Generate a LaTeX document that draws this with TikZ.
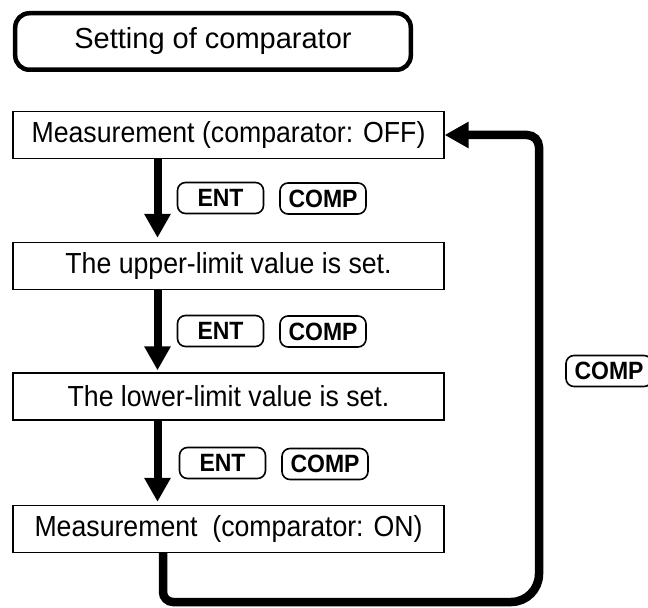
\documentclass[tikz,border=0pt]{standalone}
\usepackage{fontspec}
\setmainfont{Liberation Sans}
\newfontfamily\boxfont[FakeStretch=0.92]{Liberation Sans}
\newfontfamily\keyfont[FakeStretch=0.92]{Liberation Sans Bold}
\usetikzlibrary{arrows.meta}
\tikzset{
  stepbox/.style={draw, line width=1.3bp, minimum width=431bp, minimum height=47bp, inner sep=0pt,
    font=\boxfont\fontsize{29bp}{34bp}\selectfont},
  titlebox/.style={draw, line width=4.5bp, rounded corners=14bp, minimum width=395.5bp, minimum height=56.5bp,
    inner sep=0pt, font=\fontsize{29bp}{34bp}\selectfont},
  keybox/.style={draw, line width=1.6bp, rounded corners=8bp, minimum width=86bp, minimum height=31bp,
    inner sep=0pt, font=\keyfont\fontsize{25bp}{29bp}\selectfont},
  flow/.style={line width=8bp, -{Triangle[width=25bp,length=24bp]}},
  loopline/.style={line width=8.5bp, -{Triangle[width=25bp,length=24bp]}},
}
\begin{document}
\begin{tikzpicture}[x=1bp, y=-1bp]
\useasboundingbox (0,0) rectangle (648,608);
\clip (0,0) rectangle (648,608);
\node[titlebox] (title) at (213,41.5) {Setting of comparator};
\node[stepbox] (box1) at (228.5,135) {Measurement (comparator: OFF)};
\node[stepbox] (box2) at (228.5,266) {The upper-limit value is set.};
\node[stepbox] (box3) at (228.5,396.5) {The lower-limit value is set.};
\node[stepbox] (box4) at (228.5,529) {Measurement\ \ (comparator: ON)};
\coordinate (sx) at (157.5,0);
\coordinate (lx) at (163,0);
\coordinate (rx) at (539,0);
\coordinate (by) at (0,602);
% keys
\node[keybox] (e1) at (220.5,198) {ENT};
\node[keybox] (c1) at (323,198.5) {COMP};
\node[keybox] (e2) at (220.5,331) {ENT};
\node[keybox] (c2) at (323,331.5) {COMP};
\node[keybox] (e3) at (222.5,463) {ENT};
\node[keybox] (c3) at (325,464) {COMP};
\node[keybox] (cr) at (609,371) {COMP};
% arrows
\draw[flow] (box1.south -| sx) -- ([yshift=4bp]box2.north -| sx);
\draw[flow] (box2.south -| sx) -- ([yshift=2bp]box3.north -| sx);
\draw[flow] (box3.south -| sx) -- ([yshift=3bp]box4.north -| sx);
\draw[loopline] (box4.south -| lx) [rounded corners=10bp] -- (lx |- by) [rounded corners=28bp] -- (rx |- by)
  [rounded corners=12bp] -- (rx |- box1.east) [sharp corners] -- (box1.east);
\end{tikzpicture}
\end{document}
